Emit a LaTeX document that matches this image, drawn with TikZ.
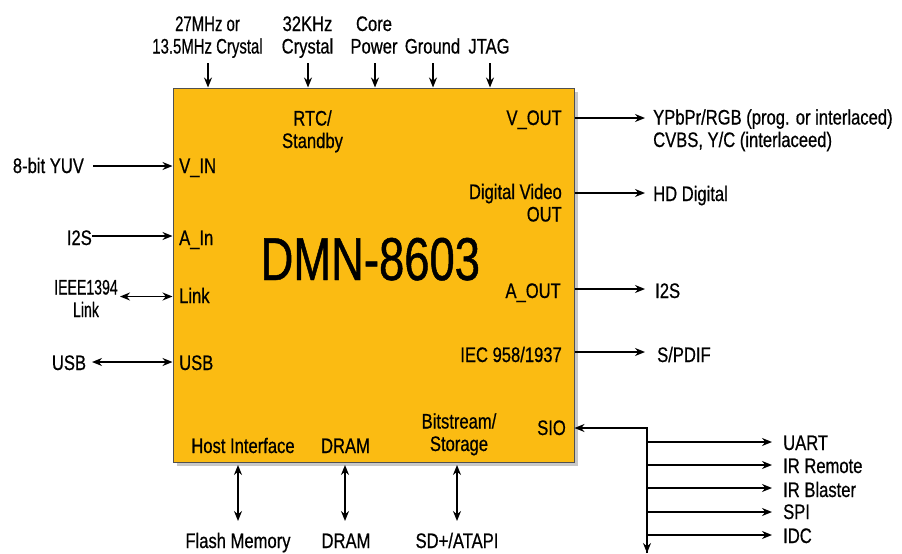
\documentclass[tikz,border=0pt]{standalone}
\usepackage{fontspec}
\usetikzlibrary{arrows.meta}
\newfontfamily\labfont{Liberation Sans}[FakeStretch=0.79,FakeBold=0.6]
\newfontfamily\titlefont{Liberation Sans}[FakeStretch=0.75,FakeBold=0.8]
\definecolor{chipfill}{RGB}{251,187,18}
\definecolor{chipborder}{RGB}{80,80,80}
\definecolor{shadowgray}{RGB}{200,200,200}
\tikzset{
  lbl/.style={inner sep=0pt, font=\labfont\fontsize{21}{22.5}\selectfont},
  arr/.style={line width=1.5pt, -{Stealth[length=10pt,width=8pt]}},
  darr/.style={line width=1.5pt, {Stealth[length=10pt,width=8pt]}-{Stealth[length=10pt,width=8pt]}},
}
\begin{document}
\begin{tikzpicture}[x=1pt,y=-1pt]
\useasboundingbox (0,0) rectangle (902,554);
% chip
\fill[shadowgray] (176.5,91.5) rectangle (577.5,465.5);
\node[draw=chipborder, line width=1pt, fill=chipfill, minimum width=401pt, minimum height=374pt, inner sep=0pt] (box) at (373.5,275) {};

% inside labels
\node[lbl, anchor=base, align=center] (rtc) at (312.5,148) {RTC/\\Standby};
\node[lbl, anchor=base east] (vout) at (562,125) {V\_OUT};
\node[lbl, anchor=base east, align=right] (dvo) at (562,221.5) {Digital Video\\OUT};
\node[lbl, anchor=base west] (vin) at (179,173) {V\_IN};
\node[lbl, anchor=base west] (ain) at (179,245) {A\_In};
\node[lbl, anchor=base west] (link) at (179,303) {Link};
\node[lbl, anchor=base west] (usb) at (179,370) {USB};
\node[inner sep=0pt, anchor=base, font=\titlefont\fontsize{60.5}{62}\selectfont] (title) at (370.3,280) {DMN-8603};
\node[lbl, anchor=base east] (aout) at (561,298) {A\_OUT};
\node[lbl, anchor=base east] (iec) at (562,362) {IEC 958/1937};
\node[lbl, anchor=base east] (sio) at (566,435) {SIO};
\node[lbl, anchor=base, align=center] (bit) at (459,451) {Bitstream/\\Storage};
\node[lbl, anchor=base] (host) at (243,453) {Host Interface};
\node[lbl, anchor=base] (dram) at (345.5,453) {DRAM};

% top
\node[lbl, anchor=base, align=center, xscale=0.9] (xtal) at (207.5,53.5) {27MHz or\\13.5MHz Crystal};
\node[lbl, anchor=base, align=center] (rtcx) at (307.5,53.5) {32KHz\\Crystal};
\node[lbl, anchor=base, align=center] (core) at (374,53.5) {Core\\Power};
\node[lbl, anchor=base] (gnd) at (432.5,53.5) {Ground};
\node[lbl, anchor=base] (jtag) at (489,53.5) {JTAG};
\coordinate (t1) at (208,63);
\coordinate (t2) at (308,63);
\coordinate (t3) at (375,63);
\coordinate (t4) at (433,63);
\coordinate (t5) at (490,63);
\foreach \c in {t1,t2,t3,t4,t5} \draw[arr] (\c) -- (\c |- box.north);

% left
\node[lbl, anchor=base west] (yuv) at (12.7,173) {8-bit YUV};
\node[lbl, anchor=base east] (i2sin) at (92,245) {I2S};
\node[lbl, anchor=base, align=center, xscale=0.85] (ieee) at (86,317) {IEEE1394\\Link};
\node[lbl, anchor=base] (usbl) at (69,370) {USB};
\coordinate (l1) at (93,166);
\coordinate (l2) at (92,236);
\coordinate (l3) at (120,296.5);
\coordinate (l4) at (92,362);
\draw[arr] (l1) -- (l1 -| box.west);
\draw[arr] (l2) -- (l2 -| box.west);
\draw[darr] (l3) -- (l3 -| box.west);
\draw[darr] (l4) -- (l4 -| box.west);

% right
\node[lbl, anchor=base west, align=left] (ypb) at (653,147) {YPbPr/RGB (prog. or interlaced)\\CVBS, Y/C (interlaceed)};
\node[lbl, anchor=base west] (hd) at (653,201) {HD Digital};
\node[lbl, anchor=base west] (i2sout) at (655,298) {I2S};
\node[lbl, anchor=base west] (spdif) at (657,362) {S/PDIF};
\coordinate (r1) at (645,118);
\coordinate (r2) at (645,193);
\coordinate (r3) at (645,289);
\coordinate (r4) at (645,352);
\foreach \c in {r1,r2,r3,r4} \draw[arr] (\c -| box.east) -- (\c);

% SIO tree
\coordinate (sj) at (647,428);
\coordinate (send) at (647,553);
\draw[line width=1.5pt, -{Stealth[length=10pt,width=8pt]}] (send) -- (sj) -- (sj -| box.east);
\draw[arr] (sj) -- (send);
\node[lbl, anchor=base west] (uart) at (783,450) {UART};
\node[lbl, anchor=base west] (irr) at (783,473) {IR Remote};
\node[lbl, anchor=base west] (irb) at (783,497) {IR Blaster};
\node[lbl, anchor=base west] (spi) at (783,519) {SPI};
\node[lbl, anchor=base west] (idc) at (783,543) {IDC};
\coordinate (s1) at (772,442);
\coordinate (s2) at (772,465);
\coordinate (s3) at (772,488);
\coordinate (s4) at (772,512);
\coordinate (s5) at (772,535);
\foreach \c in {s1,s2,s3,s4,s5} \draw[arr] (sj |- \c) -- (\c);

% bottom
\node[lbl, anchor=base] (flash) at (238,548) {Flash Memory};
\node[lbl, anchor=base] (dram2) at (346,548) {DRAM};
\node[lbl, anchor=base] (sd) at (457,548) {SD+/ATAPI};
\coordinate (b1t) at (238,465); \coordinate (b1b) at (238,521);
\coordinate (b2t) at (345,465); \coordinate (b2b) at (345,521);
\coordinate (b3t) at (457,465); \coordinate (b3b) at (457,521);
\draw[darr] (b1t) -- (b1b);
\draw[darr] (b2t) -- (b2b);
\draw[darr] (b3t) -- (b3b);
\end{tikzpicture}
\end{document}
